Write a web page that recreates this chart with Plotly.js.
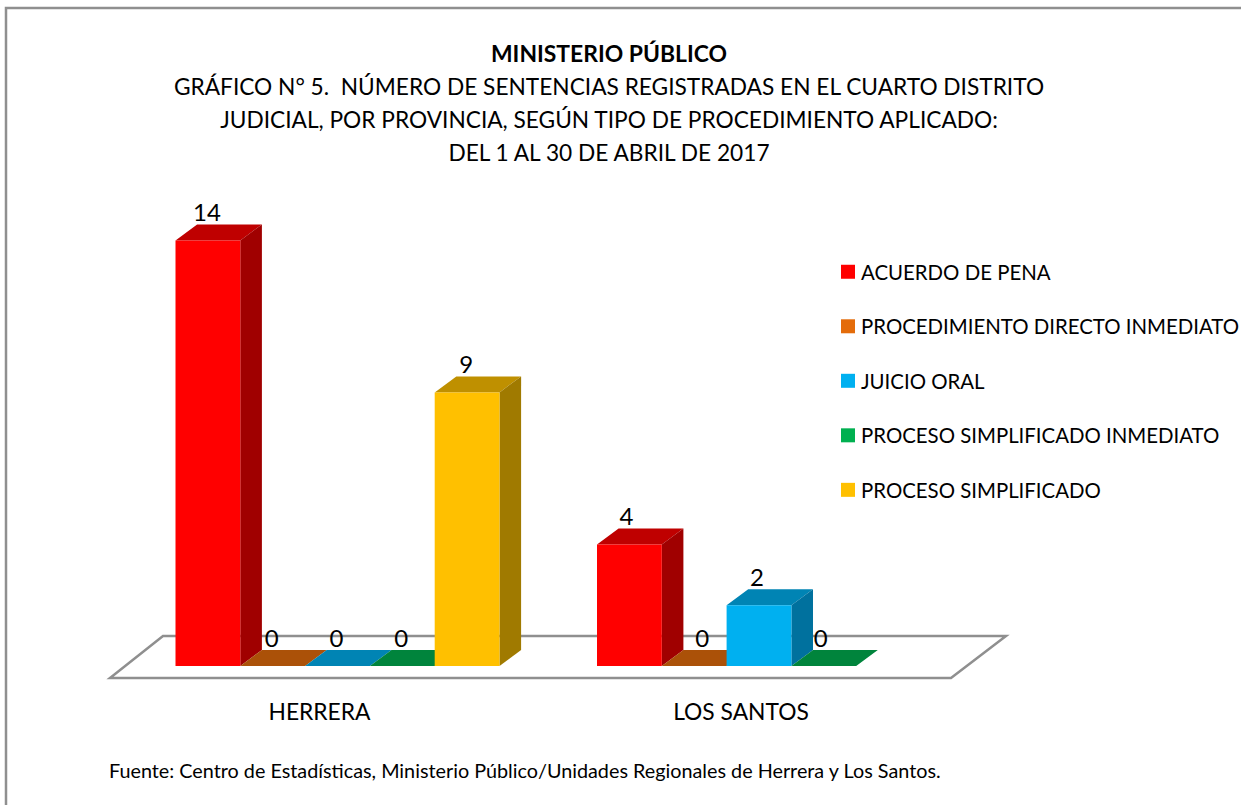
<!DOCTYPE html>
<html>
<head>
<meta charset="utf-8">
<script src="https://cdn.plot.ly/plotly-3.0.1.min.js"></script>
<style>html,body{margin:0;padding:0;background:#fff;overflow:hidden}#chart{width:1241px;height:805px}</style>
</head>
<body>
<div id="chart"></div>
<script>
var categories = ["HERRERA", "LOS SANTOS"];
var seriesNames = ["ACUERDO DE PENA", "PROCEDIMIENTO DIRECTO INMEDIATO", "JUICIO ORAL", "PROCESO SIMPLIFICADO INMEDIATO", "PROCESO SIMPLIFICADO"];
var acuerdo = [14, 4];
var directo = [0, 0];
var juicio = [0, 2];
var simplificadoInmediato = [0, 0];
var simplificado = [9, null];
var seriesValues = [acuerdo, directo, juicio, simplificadoInmediato, simplificado];
var seriesColors = ["#FF0000", "#E46C0A", "#00B0F0", "#00B050", "#FFC000"];
var topColors = ["#BF0000", "#AB5108", "#0084B4", "#00843C", "#BF9000"];
var sideColors = ["#A00000", "#8F4406", "#00719E", "#006F32", "#A07A00"];
var labelNudge = [[0, -2], [0, 9], [0, -1], [0, -2], [0, 0]];

var W = 1241, H = 805;
var catX0 = 337.5, catStep = 421.5, baseY = 666, unitY = 30.4;
var barW = 64.8 / catStep, depthX = 21.6 / catStep, depthY = 16 / unitY;
var xs = categories.map(function (c, i) { return i; });
var labelShift = 18 / catStep;
var traces = [];

// side and top faces of each 3D column, behind the front faces
seriesValues.forEach(function (vals, s) {
  var topX = [], topY = [], sideX = [], sideY = [];
  vals.forEach(function (v, c) {
    if (v === null) return;
    var l = xs[c] + (s - 2.5) * barW, r = l + barW;
    topX.push(l, r, r + depthX, l + depthX, l, null);
    topY.push(v, v, v + depthY, v + depthY, v, null);
    if (v > 0) {
      sideX.push(r, r + depthX, r + depthX, r, r, null);
      sideY.push(0, depthY, v + depthY, v, 0, null);
    }
  });
  traces.push({type: "scatter", mode: "lines", x: topX, y: topY, fill: "toself", fillcolor: topColors[s],
    line: {width: 0, color: topColors[s]}, showlegend: false, hoverinfo: "skip", zorder: 0});
  if (sideX.length) traces.push({type: "scatter", mode: "lines", x: sideX, y: sideY, fill: "toself", fillcolor: sideColors[s],
    line: {width: 0, color: sideColors[s]}, showlegend: false, hoverinfo: "skip", zorder: 0});
});

// front faces
seriesValues.forEach(function (vals, s) {
  traces.push({type: "bar", name: seriesNames[s], x: xs, y: vals, legendgroup: "g" + s,
    marker: {color: seriesColors[s]}, zorder: 1, hoverinfo: "x+y+name"});
});

// value labels
seriesValues.forEach(function (vals, s) {
  var lx = [], ly = [], lt = [];
  vals.forEach(function (v, c) {
    if (v === null) return;
    lx.push(xs[c] + (s - 2) * barW + (labelNudge[s][c] - 1) / catStep);
    ly.push(v + depthY - 3 / unitY);
    lt.push(String(v));
  });
  traces.push({type: "scatter", mode: "text", x: lx, y: ly, text: lt, textposition: "top center",
    textfont: {family: "Lato", size: 24, color: "#000"}, cliponaxis: false,
    showlegend: false, hoverinfo: "skip", zorder: 2});
});

var px = function (p) { return (p - catX0) / catStep; };
var py = function (p) { return (baseY - p) / unitY; };

var layout = {
  width: W, height: H,
  margin: {l: 0, r: 0, t: 0, b: 0, pad: 0, autoexpand: false},
  paper_bgcolor: "#fff", plot_bgcolor: "rgba(0,0,0,0)",
  barmode: "group", bargap: 1 - 5 * barW,
  font: {family: "Lato", color: "#000"},
  title: {
    text: "<span style='font-size:22.9px'><b>MINISTERIO PÚBLICO</b></span><br>" +
      "<span style='font-size:22.7px'>GRÁFICO N° 5.  NÚMERO DE SENTENCIAS REGISTRADAS EN EL CUARTO DISTRITO</span><br>" +
      "<span style='font-size:22.7px'>JUDICIAL, POR PROVINCIA, SEGÚN TIPO DE PROCEDIMIENTO APLICADO:</span><br>" +
      "<span style='font-size:22.7px'>DEL 1 AL 30 DE ABRIL DE 2017</span>",
    font: {family: "Lato", size: 25.4, color: "#000"},
    x: 609 / W, xanchor: "center", xref: "paper", y: 1 - 62 / H, yanchor: "top", yref: "paper", automargin: false
  },
  xaxis: {
    range: [px(0), px(W)], tickmode: "array",
    tickvals: xs.map(function (x) { return x - labelShift; }), ticktext: categories,
    tickfont: {family: "Lato", size: 22.8, color: "#000"},
    showgrid: false, zeroline: false, showline: false, ticks: "", anchor: "free", position: (H - 696) / H,
    fixedrange: true
  },
  yaxis: {range: [py(H), py(0)], visible: false, fixedrange: true},
  legend: {
    x: 828 / W, xanchor: "left", y: 1 - 252 / H, yanchor: "top",
    traceorder: "grouped", tracegroupgap: 25, bgcolor: "rgba(0,0,0,0)",
    font: {family: "Lato", size: 20.4, color: "#000"}, itemclick: false, itemdoubleclick: false
  },
  shapes: [
    {type: "rect", xref: "paper", yref: "paper", layer: "below",
      x0: 6 / W, x1: 1.2, y0: -0.2, y1: 1 - 8 / H,
      line: {color: "#8F8F8F", width: 2.5}, fillcolor: "rgba(0,0,0,0)"},
    {type: "path", xref: "x", yref: "y", layer: "below",
      path: "M" + px(110) + "," + py(678) + "L" + px(951) + "," + py(678) + "L" + px(1006) + "," + py(636) + "L" + px(163) + "," + py(636) + "Z",
      line: {color: "#8F8F8F", width: 2.5}, fillcolor: "#fff"}
  ],
  annotations: [
    {text: "Fuente: Centro de Estadísticas, Ministerio Público/Unidades Regionales de Herrera y Los Santos.",
      xref: "paper", yref: "paper", x: 107 / W, y: 1 - 770 / H, xanchor: "left", yanchor: "middle", showarrow: false,
      font: {family: "Lato", size: 19.8, color: "#000"}}
  ]
};

Plotly.newPlot("chart", traces, layout, {displayModeBar: false}).then(function (gd) {
  var bars = gd.querySelectorAll(".legend .legendpoints path");
  bars.forEach(function (p) { p.setAttribute("d", "M7,7H-7V-7H7Z"); });
  gd.querySelectorAll(".legend text.legendtext").forEach(function (t) { t.setAttribute("x", "33"); });
  gd.querySelectorAll(".legend .scrollbox, .legend").forEach(function (n) { n.removeAttribute("clip-path"); });
});
</script>
</body>
</html>
